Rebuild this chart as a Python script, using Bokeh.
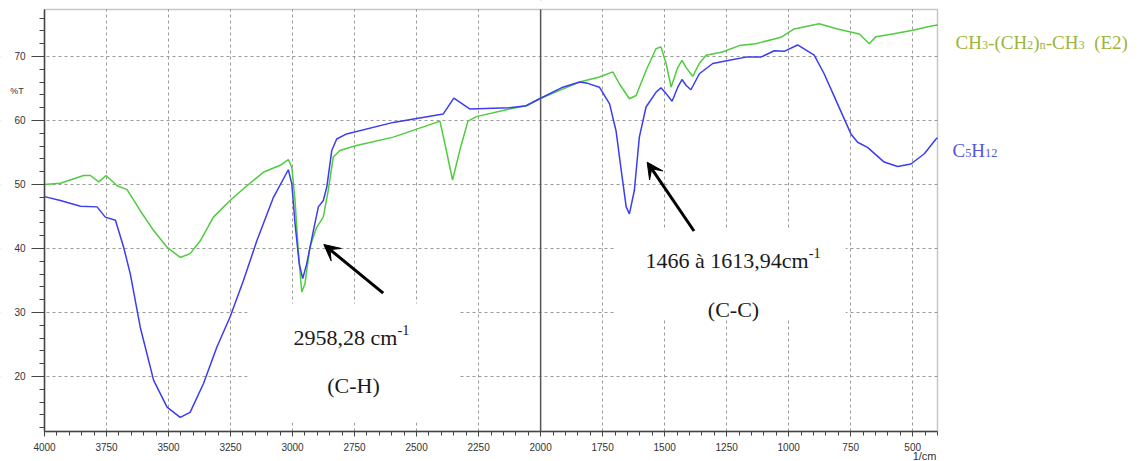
from bokeh.plotting import figure
from bokeh.models import (Range1d, FixedTicker, Label, Span, Arrow, VeeHead,
                          BoxAnnotation)
from bokeh.embed import file_html
from bokeh.resources import INLINE

# ---- IR transmittance spectra (%T vs wavenumber, cm-1) ----
wn_e2 = [4000, 3936, 3842, 3815, 3781, 3752, 3707, 3667, 3614, 3560, 3506, 3453,
         3413, 3372, 3319, 3252, 3184, 3118, 3050, 3017, 3003, 2990, 2977, 2963,
         2950, 2930, 2903, 2876, 2856, 2836, 2809, 2742, 2594, 2420, 2406, 2386,
         2355, 2326, 2293, 2259, 2125, 2058, 2004, 1923, 1843, 1763, 1709, 1682,
         1642, 1615, 1575, 1535, 1515, 1494, 1474, 1447, 1430, 1414, 1387, 1360,
         1333, 1267, 1199, 1132, 1112, 1031, 978, 877, 803, 715, 675, 648, 581,
         500, 419, 400]
t_e2 = [50.0, 50.2, 51.4, 51.4, 50.4, 51.4, 49.8, 49.2, 45.9, 42.8, 40.2, 38.6,
        39.2, 41.2, 44.9, 47.5, 49.8, 51.9, 53.0, 53.9, 52.7, 47.5, 39.7, 33.2,
        34.5, 40.2, 43.3, 44.9, 49.1, 54.3, 55.3, 56.1, 57.4, 59.7, 59.9, 56.4,
        50.7, 55.3, 59.9, 60.6, 61.8, 62.3, 63.4, 64.7, 66.0, 66.8, 67.6, 65.7,
        63.4, 63.9, 67.8, 71.2, 71.5, 68.9, 65.2, 68.3, 69.4, 68.3, 66.9, 68.9,
        70.2, 70.7, 71.7, 72.0, 72.2, 73.0, 74.3, 75.1, 74.3, 73.5, 72.0, 73.1,
        73.5, 74.1, 74.8, 74.9]

wn_c5 = [4000, 3936, 3855, 3788, 3755, 3714, 3681, 3654, 3614, 3560, 3506, 3453,
         3413, 3359, 3305, 3252, 3198, 3144, 3077, 3017, 3003, 2990, 2973, 2959,
         2943, 2916, 2896, 2876, 2862, 2842, 2822, 2782, 2594, 2393, 2350, 2286,
         2125, 2058, 2004, 1910, 1843, 1810, 1763, 1722, 1696, 1675, 1655, 1642,
         1622, 1602, 1575, 1535, 1515, 1494, 1470, 1447, 1430, 1414, 1394, 1360,
         1306, 1239, 1172, 1112, 1079, 1058, 1018, 964, 897, 857, 803, 749, 722,
         682, 615, 561, 507, 453, 406, 400]
t_c5 = [48.1, 47.5, 46.6, 46.5, 44.9, 44.4, 40.2, 36.0, 27.7, 19.4, 15.2, 13.6,
        14.4, 18.9, 24.6, 29.3, 35.0, 41.2, 48.0, 52.3, 50.1, 43.9, 37.6, 35.3,
        37.6, 42.8, 46.5, 47.5, 49.6, 55.3, 57.1, 57.9, 59.7, 61.0, 63.5, 61.8,
        62.0, 62.3, 63.4, 65.2, 66.0, 65.8, 65.2, 62.6, 58.4, 52.2, 46.5, 45.4,
        49.1, 57.4, 62.1, 64.4, 65.1, 64.2, 63.0, 65.2, 66.4, 65.5, 64.8, 67.3,
        68.9, 69.4, 69.9, 69.9, 70.5, 70.9, 70.8, 71.8, 70.2, 67.3, 62.6, 57.9,
        56.6, 55.8, 53.5, 52.8, 53.2, 54.8, 57.1, 57.3]

x_ticks = [4000, 3750, 3500, 3250, 3000, 2750, 2500, 2250, 2000,
           1750, 1500, 1250, 1000, 750, 500]
x_minor = list(range(400, 4001, 50))
y_ticks = [20, 30, 40, 50, 60, 70]
y_minor = list(range(12, 78, 2))

# spectrum box (data limits) and the full canvas extent in data units
X_LO, X_HI = 400, 4000
Y_LO, Y_HI = 11.4, 77.34
CX_LEFT, CX_RIGHT = 4177.4, -422.4
CY_BOT, CY_TOP = 6.715, 78.746

GREEN = "#4fcc3f"
BLUE = "#3c3cf0"
GREEN_TXT = "#9db53a"
BLUE_TXT = "#5555dd"
SERIF = "Liberation Serif"
SANS = "Liberation Sans"

p = figure(width=1141, height=461, output_backend="svg", toolbar_location=None,
           x_range=Range1d(CX_LEFT, CX_RIGHT), y_range=Range1d(CY_BOT, CY_TOP),
           min_border=0)
p.background_fill_color = "white"
p.border_fill_color = "white"
p.outline_line_color = None

# axes pinned to the edges of the spectrum box
p.xaxis.fixed_location = Y_LO
p.yaxis.fixed_location = X_HI
p.xaxis.bounds = (X_LO, X_HI)
p.yaxis.bounds = (Y_LO, Y_HI)
for ax in (p.xaxis[0], p.yaxis[0]):
    ax.axis_line_color = "#444444"
    ax.axis_line_width = 1.5
    ax.major_tick_line_color = "#444444"
    ax.minor_tick_line_color = "#444444"
    ax.major_tick_in = 0
    ax.minor_tick_in = 0
    ax.major_label_text_font = SANS
    ax.major_label_text_font_size = "10px"
    ax.major_label_text_color = "#333333"

p.xaxis.ticker = FixedTicker(ticks=x_ticks, minor_ticks=x_minor)
p.xaxis.major_tick_out = 5
p.xaxis.minor_tick_out = 4
p.xaxis.major_label_standoff = 6

p.yaxis.ticker = FixedTicker(ticks=y_ticks, minor_ticks=y_minor)
p.yaxis.major_tick_out = 13
p.yaxis.minor_tick_out = 5
p.yaxis.major_label_standoff = 6

# dashed grid
for g in (p.xgrid[0], p.ygrid[0]):
    g.grid_line_color = "#9a9a9a"
    g.grid_line_dash = "3 3"
    g.grid_line_width = 1

# solid divider at 2000 cm-1
p.add_layout(Span(location=2000, dimension="height", line_color="#555555",
                  line_width=1.5, level="underlay"))

# blank margins around the spectrum box, plus the panels behind the band notes
p.quad(left=[X_HI, CX_RIGHT, CX_RIGHT, CX_RIGHT, 3181.6, 1698.0],
       right=[CX_LEFT, X_LO, CX_LEFT, CX_LEFT, 2331.0, 770.0],
       bottom=[CY_BOT, CY_BOT, CY_BOT, Y_HI, 12.8, 28.9],
       top=[CY_TOP, CY_TOP, Y_LO, CY_TOP, 31.4, 42.8],
       fill_color="white", line_color=None)

# spectra
p.line(wn_e2, t_e2, line_color=GREEN, line_width=1.5)
p.line(wn_c5, t_c5, line_color=BLUE, line_width=1.5)

# box outline
p.add_layout(BoxAnnotation(left=X_LO, right=X_HI, bottom=Y_LO, top=Y_HI,
                           fill_color=None, line_color="#444444", line_width=1.5))

# rich text helper (Times-like advance widths, em units)
ADV = {"C": .667, "H": .722, "E": .611, "n": .5, "c": .444, "m": .778,
       "-": .333, "(": .333, ")": .333, ",": .25, " ": .25, "\u00e0": .444}


def adv(s):
    return sum(ADV.get(ch, .5) for ch in s)


def rich(x, y, parts, size, color):
    off = 0.0
    for txt, kind in parts:
        fs = size if kind == "n" else size * 0.65
        dy = 0.0 if kind == "n" else (-0.14 * size if kind == "sub" else 0.32 * size)
        lead = len(txt) - len(txt.lstrip(" "))
        p.add_layout(Label(x=x, y=y, x_offset=off + adv(" " * lead) * fs, y_offset=dy,
                           text=txt.strip(" "), text_font=SERIF,
                           text_font_size=f"{fs:.1f}px", text_color=color,
                           text_align="left", text_baseline="alphabetic"))
        off += adv(txt) * fs


# series names
rich(327.4, 72.23, [("CH", "n"), ("3", "sub"), ("-(CH", "n"), ("2", "sub"), (")", "n"),
                    ("n", "sub"), ("-CH", "n"), ("3", "sub"), ("  (E2)", "n")],
     19, GREEN_TXT)
rich(339.5, 55.31, [("C", "n"), ("5", "sub"), ("H", "n"), ("12", "sub")], 19, BLUE_TXT)

# band annotations
rich(2996.2, 26.14, [("2958,28 cm", "n"), ("-1", "sup")], 22, "#1a1a1a")
rich(2860.3, 18.59, [("(C-H)", "n")], 22, "#1a1a1a")
rich(1577.1, 38.12, [("1466 \u00e0 1613,94cm", "n"), ("-1", "sup")], 22, "#1a1a1a")
rich(1326.0, 30.47, [("(C-C)", "n")], 22, "#1a1a1a")

for xs, ys, xe, ye in [(2634.6, 33.01, 2874.0, 40.62), (1381.6, 42.73, 1570.3, 53.48)]:
    p.add_layout(Arrow(end=VeeHead(size=16, fill_color="black", line_color="black"),
                       x_start=xs, y_start=ys, x_end=xe, y_end=ye,
                       line_color="black", line_width=3))

# axis captions
p.add_layout(Label(x=4110.9, y=64.68, text="%T", text_font=SANS, text_font_size="9px",
                   text_color="#333333", text_align="center", text_baseline="middle"))
p.add_layout(Label(x=404.0, y=7.65, text="1/cm", text_font=SANS, text_font_size="11px",
                   text_color="#333333", text_align="right", text_baseline="middle"))

open("out.html", "w").write(file_html(p, INLINE))
